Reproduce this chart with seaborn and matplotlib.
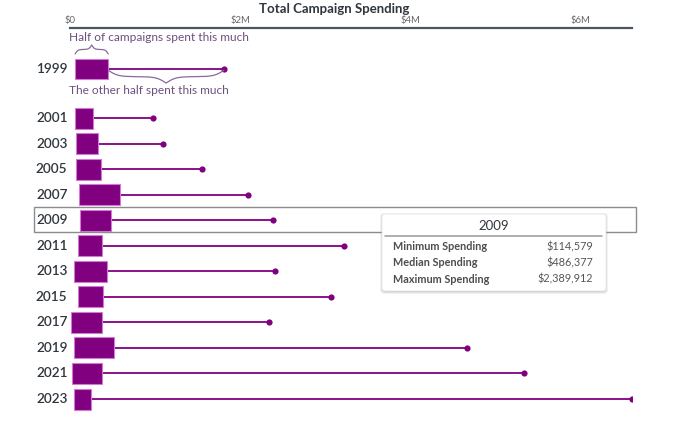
import numpy as np
import pandas as pd
import matplotlib
matplotlib.use("Agg")
import matplotlib.pyplot as plt
import matplotlib.transforms as mtransforms
from matplotlib.patches import Rectangle, FancyBboxPatch
import seaborn as sns

# ---- data ----
years = [1999, 2001, 2003, 2005, 2007, 2009, 2011, 2013, 2015, 2017, 2019, 2021, 2023]
min_spend = [60000, 62000, 70000, 70000, 110000, 114579, 94000, 47000, 98000, 8000, 50000, 24000, 43000]
median_spend = [450000, 270000, 330000, 370000, 590000, 486377, 380000, 430000, 390000, 376000, 520000, 373000, 250000]
max_spend = [1810000, 980000, 1090000, 1550000, 2090000, 2389912, 3220000, 2410000, 3070000, 2340000, 4670000, 5340000, 6610000]
tick_values = [0, 2000000, 4000000, 6000000]
tick_labels = ["$0", "$2M", "$4M", "$6M"]
highlight_year = 2009

W, H = 680, 421
PURPLE = "#800080"
NOTE = "#6e4f80"
TEXT = "#30363d"

sns.set_theme(style="white")
plt.rcParams["font.family"] = ["Lato", "DejaVu Sans"]

df = pd.DataFrame({"year": years, "min": min_spend, "median": median_spend, "max": max_spend})
# 1999 sits a little apart from the other rows (room for the notes)
df["row"] = np.arange(len(df)) + np.where(np.arange(len(df)) > 0, 0.92, 0.0)

fig = plt.figure(figsize=(W / 100, H / 100), dpi=100)
ax = fig.add_axes([70 / W, 0, (632 - 70) / W, 1 - 28 / H])
pix = mtransforms.Affine2D().scale(1 / W, -1 / H).translate(0, 1) + fig.transFigure

# boxes: min -> median
ax.barh(df["row"], df["median"] - df["min"], left=df["min"], height=0.82,
        color=PURPLE, edgecolor="#d27ad2", linewidth=0.8, zorder=3)
# whiskers: median -> max
ax.hlines(df["row"], df["median"], df["max"], color=PURPLE, linewidth=1.3, zorder=2)
sns.scatterplot(data=df, x="max", y="row", ax=ax, color=PURPLE, s=20,
                edgecolor=PURPLE, linewidth=0, zorder=4, legend=False)

ax.set_xlim(0, df["max"].max())
ax.set_ylim(13.78, -1.605)
ax.set_xlabel("")
ax.set_ylabel("")
ax.set_yticks([])
ax.xaxis.tick_top()
ax.set_xticks(tick_values)
ax.set_xticklabels(tick_labels)
ax.tick_params(axis="x", length=0, pad=1.8, labelsize=6.8, labelcolor="#666666")
for s in ["left", "right", "bottom"]:
    ax.spines[s].set_visible(False)
ax.spines["top"].set_color("#4a5560")
ax.spines["top"].set_linewidth(1.6)
ax.patch.set_alpha(0)

# year labels
for _, r in df.iterrows():
    ax.text(-2.5 / 562, r["row"], str(int(r["year"])), transform=ax.get_yaxis_transform(),
            ha="right", va="center", fontsize=9.8, fontweight="semibold", color=TEXT)

fig.text(334 / W, 1 - 9 / H, "Total Campaign Spending", ha="center", va="center",
         fontsize=9.5, fontweight="bold", color=TEXT)


def brace(x0, x1, y_base, y_tip, n=201):
    xs = np.linspace(x0, x1, n)
    half = xs[: n // 2 + 1]
    beta = 12.0 / (half[-1] - half[0])
    yh = 1 / (1 + np.exp(-beta * (half - half[0]))) + 1 / (1 + np.exp(-beta * (half - half[-1])))
    yh = (yh - yh[0]) / (yh[-1] - yh[0])
    yy = np.concatenate([yh, yh[-2::-1]])
    ax.plot(xs, y_base + (y_tip - y_base) * yy, color="#8a6a98", linewidth=0.9,
            clip_on=False, zorder=5)


first = df.iloc[0]
brace(first["min"], first["median"], -0.59, -0.94)
brace(first["median"], first["max"], 0.05, 0.55)
fig.text(69 / W, 1 - 41 / H, "Half of campaigns spent this much", ha="left",
         va="baseline", fontsize=8.6, color=NOTE)
fig.text(69 / W, 1 - 94 / H, "The other half spent this much", ha="left",
         va="baseline", fontsize=8.6, color=NOTE)

# highlighted row + tooltip
hl = df[df["year"] == highlight_year].iloc[0]
fig.add_artist(Rectangle((34, 207), 602, 25, transform=pix, fill=False,
                         edgecolor="#8c8c8c", linewidth=1.0, zorder=6))
for off, a in [(3, 0.05), (2, 0.07), (1, 0.09)]:
    fig.add_artist(FancyBboxPatch((382 - off + 1, 214 - off + 2), 224 + 2 * off - 2, 77 + 2 * off - 2,
                                  boxstyle="round,pad=0,rounding_size=4", transform=pix,
                                  facecolor="black", edgecolor="none", alpha=a, zorder=7))
fig.add_artist(FancyBboxPatch((382, 214), 224, 77, boxstyle="round,pad=0,rounding_size=3",
                              transform=pix, facecolor="white", edgecolor="#e6e6e6",
                              linewidth=0.6, zorder=8))
fig.text(494 / W, 1 - 226 / H, str(highlight_year), ha="center", va="center",
         fontsize=9.5, color=TEXT, zorder=9)
fig.add_artist(plt.Line2D([385 / W, 602 / W], [1 - 236 / H, 1 - 236 / H],
                          color="#9a9a9a", linewidth=1.1, zorder=9))
rows = [("Minimum Spending", hl["min"]), ("Median Spending", hl["median"]),
        ("Maximum Spending", hl["max"])]
for i, (lab, val) in enumerate(rows):
    yy = 1 - (246.7 + 16.3 * i) / H
    fig.text(393 / W, yy, lab, ha="left", va="center", fontsize=7.8,
             fontweight="bold", color="#4d4d4d", zorder=9)
    fig.text(593 / W, yy, f"${int(val):,}", ha="right", va="center", fontsize=7.8,
             color="#555555", zorder=9)

fig.savefig("out.png", dpi=100)
